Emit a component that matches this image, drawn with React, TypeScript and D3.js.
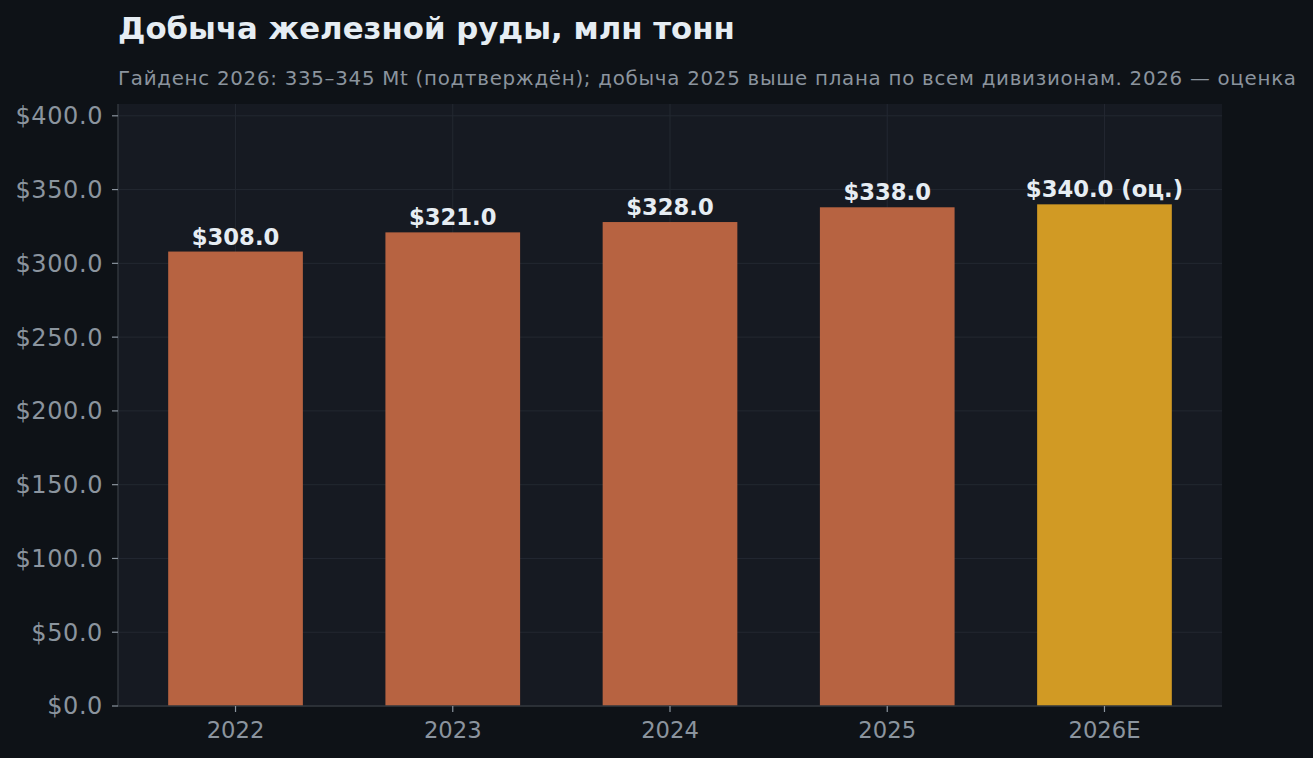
import React from 'react'
import * as d3 from 'd3'

const WIDTH = 1313
const HEIGHT = 758
const MARGIN = { top: 104, right: 91, bottom: 52, left: 118 }

const years = ['2022', '2023', '2024', '2025', '2026E']
const output = [308, 321, 328, 338, 340]
const isEstimate = [false, false, false, false, true]
const yTicks = [0, 50, 100, 150, 200, 250, 300, 350, 400]

const TITLE = 'Добыча железной руды, млн тонн'
const SUBTITLE = 'Гайденс 2026: 335–345 Mt (подтверждён); добыча 2025 выше плана по всем дивизионам. 2026 — оценка'

const FONT = '"DejaVu Sans", sans-serif'
const BAR_WIDTH = 0.62

export default function App() {
  const boundsWidth = WIDTH - MARGIN.left - MARGIN.right
  const boundsHeight = HEIGHT - MARGIN.top - MARGIN.bottom

  // matplotlib-style axes: categories at 0..n-1, 5% margin around the bars
  const n = years.length
  const lo = -BAR_WIDTH / 2
  const hi = n - 1 + BAR_WIDTH / 2
  const pad = (hi - lo) * 0.05
  const xScale = d3.scaleLinear().domain([lo - pad, hi + pad]).range([0, boundsWidth])
  const yScale = d3.scaleLinear().domain([0, 408]).range([boundsHeight, 0])
  const bw = xScale(BAR_WIDTH) - xScale(0)

  return (
    <svg width={WIDTH} height={HEIGHT} style={{ position: 'absolute', left: 0, top: 0, background: '#0e1217' }}>
      <rect width={WIDTH} height={HEIGHT} fill="#0e1217" />
      <text x={MARGIN.left} y={39} fill="#e6edf3" fontFamily={FONT} fontWeight="bold" fontSize={30.8}>
        {TITLE}
      </text>
      <text x={MARGIN.left} y={85} fill="#8b949e" fontFamily={FONT} fontSize={19.8} letterSpacing={0.74}>
        {SUBTITLE}
      </text>
      <g transform={`translate(${MARGIN.left},${MARGIN.top})`}>
        <rect width={boundsWidth} height={boundsHeight} fill="#161a22" />
        {yTicks.map((t) => (
          <line key={'gy' + t} x1={0} x2={boundsWidth} y1={yScale(t)} y2={yScale(t)} stroke="#232831" strokeWidth={1} />
        ))}
        {years.map((y, i) => (
          <line key={'gx' + y} x1={xScale(i)} x2={xScale(i)} y1={0} y2={boundsHeight} stroke="#232831" strokeWidth={1} />
        ))}
        {output.map((v, i) => (
          <rect
            key={years[i]}
            x={xScale(i) - bw / 2}
            y={yScale(v)}
            width={bw}
            height={boundsHeight - yScale(v)}
            fill={isEstimate[i] ? '#d19a24' : '#b76341'}
          />
        ))}
        {output.map((v, i) => (
          <text
            key={'l' + years[i]}
            x={xScale(i)}
            y={yScale(v) - 7}
            textAnchor="middle"
            fill="#e6edf3"
            fontFamily={FONT}
            fontWeight="bold"
            fontSize={22.7}
          >
            {`$${v.toFixed(1)}` + (isEstimate[i] ? ' (оц.)' : '')}
          </text>
        ))}
        <line x1={0} x2={0} y1={0} y2={boundsHeight} stroke="#30363d" strokeWidth={1.5} />
        <line x1={0} x2={boundsWidth} y1={boundsHeight} y2={boundsHeight} stroke="#30363d" strokeWidth={1.5} />
        {yTicks.map((t) => (
          <g key={'ty' + t} transform={`translate(0,${yScale(t)})`}>
            <line x1={-6} x2={0} stroke="#8b949e" strokeWidth={1.2} />
            <text x={-15} dy="0.35em" textAnchor="end" fill="#8b949e" fontFamily={FONT} fontSize={24} letterSpacing={0.6}>
              {`$${t.toFixed(1)}`}
            </text>
          </g>
        ))}
        {years.map((y, i) => (
          <g key={'tx' + y} transform={`translate(${xScale(i)},${boundsHeight})`}>
            <line y1={0} y2={6} stroke="#8b949e" strokeWidth={1.2} />
            <text y={31.5} textAnchor="middle" fill="#8b949e" fontFamily={FONT} fontSize={22.7}>
              {y}
            </text>
          </g>
        ))}
      </g>
    </svg>
  )
}
